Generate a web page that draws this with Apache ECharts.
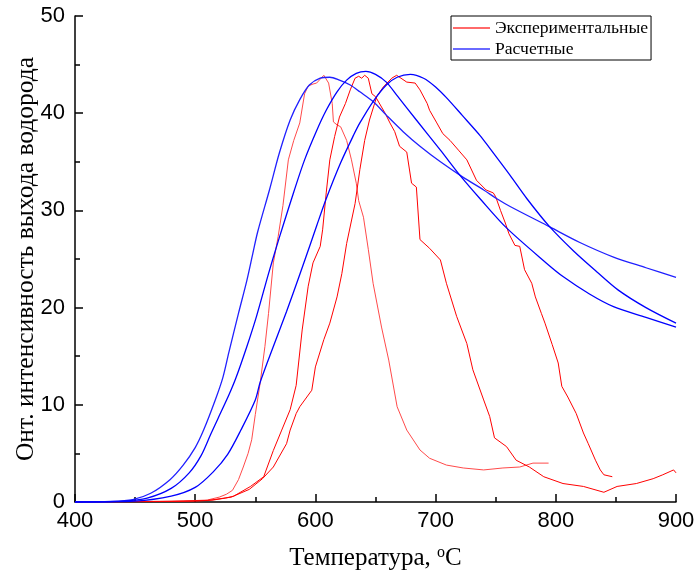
<!DOCTYPE html>
<html>
<head>
<meta charset="utf-8">
<script src="https://cdn.jsdelivr.net/npm/echarts@6/dist/echarts.min.js"></script>
<style>html,body{margin:0;padding:0;background:#fff}#c{width:696px;height:579px}</style>
</head>
<body>
<div id="c"></div>
<script>
const xTicks = [400, 500, 600, 700, 800, 900];
const yTicks = [0, 10, 20, 30, 40, 50];
const legendNames = ['Экспериментальные', 'Расчетные'];

const exp1 = [[400,0],[450,0.05],[490,0.1],[510,0.2],[520,0.5],[526,0.8],[531,1.2],[536,2.3],[540,3.6],[544,5],[547,6.4],[550,9],[554,12.2],[558,16],[561,19.4],[565,24.6],[569,27.3],[573,30.5],[577.5,35.2],[582,37.2],[587,39],[591,42],[594,42.8],[598,43.0],[601,43.1],[604,43.5],[607,43.9],[611,43.1],[614,41.0],[615,39.1],[618,38.8],[621,38.6],[626,37.2],[630,35.2],[634,32.8],[636,31.0],[640,29.3],[644,26],[648,22.5],[655,18],[661,14.6],[668,9.8],[676,7.4],[687,5.35],[695,4.5],[709,3.8],[723,3.5],[740,3.3],[756,3.5],[770,3.6],[781,4.0],[794,4.0]];

const exp2 = [[400,0],[470,0.05],[500,0.1],[515,0.2],[525,0.4],[532,0.6],[546,1.6],[557,2.6],[565,5.3],[572,7.4],[579,9.5],[584,12],[589,17.7],[594,22.2],[598,24.6],[604,26.3],[606,28],[609,31.8],[612,35.2],[616,37.6],[620,39.6],[625,41],[629,42.4],[633,43.6],[636,43.8],[638.5,43.6],[641,43.9],[644,43.6],[647,42],[650,41.7],[658,40],[662,39],[666,38.1],[670,36.6],[676,36],[680,32.8],[684,32.4],[687,27],[695,26.1],[704,24.9],[709,22.5],[717.5,19.1],[726,16.3],[731,13.6],[740,10.5],[745,8.8],[749,6.6],[759,5.7],[767,4.3],[778,3.6],[790,2.6],[806,1.9],[823,1.6],[840,1.0],[851,1.6],[867,1.9],[881,2.4],[889,2.8],[898,3.3],[900,3.0]];

const exp3 = [[400,0],[480,0.05],[510,0.15],[530,0.5],[545,1.3],[556,2.4],[565,3.6],[576,6.0],[579,7.4],[584,9.1],[587,9.8],[597,11.5],[600,13.9],[607,16.7],[612,18.4],[618,21.1],[622,23.5],[626,26.6],[633,30.7],[637,34.2],[641,37.2],[645,39.3],[651,41.7],[656.5,42.7],[663.5,43.6],[667.6,43.9],[676,43.2],[683,43.1],[687,42.4],[693,41],[695,40.3],[701,39],[706,37.9],[712,37.2],[719,36.2],[726,35.2],[734,33.1],[742,32.1],[748,31.8],[750,31.4],[754,30],[758,28.7],[761,27.6],[766,26.4],[770,26.3],[774,23.9],[780,22.5],[783,21.1],[788,19.4],[791,18.4],[797,16.2],[802,14.3],[805,11.9],[810,10.8],[817,9.1],[823,7.1],[827,6.0],[833,4.3],[837,3.3],[840,2.8],[847,2.6]];

const calc1 = [[400,0],[430,0.05],[448,0.25],[463,0.9],[479,2.3],[490,3.8],[500,5.6],[507,7.4],[517,10.6],[523,12.8],[528,15.4],[536,19.4],[543,22.8],[548,25.6],[552,27.8],[562,32.2],[570,35.9],[579,39.3],[587,41.4],[595,42.9],[604,43.6],[612,43.7],[620,43.4],[629,42.9],[637,42.2],[648,41.2],[659,39.8],[673,38.1],[687,36.6],[704,35.0],[723,33.4],[740,32.1],[751,31.2],[762,30.4],[795,28.3],[820,26.7],[848,25.2],[875,24.1],[900,23.1]];

const calc2 = [[400,0],[440,0.1],[460,0.4],[480,1.4],[495,3.0],[505,4.8],[513,7.0],[519,8.6],[528,11.0],[534,12.8],[543,16],[551,19.1],[561,23.5],[568,26.4],[573,28.4],[582,31.9],[591,35.2],[601,38.2],[609,40.3],[618,42.2],[626,43.4],[634,44.1],[642,44.3],[650,44.0],[659,43.2],[668,41.8],[684,39.3],[704,36.2],[721,33.5],[737,31.2],[759,28.2],[792,24.6],[806,23.2],[828,21.4],[848,20.1],[875,19.0],[900,18.0]];

const calc3 = [[400,0],[450,0.1],[480,0.6],[500,1.5],[515,3.1],[527,4.9],[538,7.4],[550,10.5],[554,12.3],[565,16],[576,19.6],[587,23.4],[596,26.6],[601,28.4],[609,31.2],[621,34.9],[632,37.8],[637,39],[648,41.2],[659,42.9],[668,43.7],[679,44.0],[690,43.6],[700,42.7],[709,41.6],[722,39.8],[737,37.7],[745,36.4],[762,33.6],[776,31.2],[795,28.3],[815,25.8],[834,23.7],[852,21.8],[875,20.0],[900,18.4]];

const chart = echarts.init(document.getElementById('c'), null, {renderer: 'canvas'});

function line(name, data, color, width, smooth) {
  return {
    name: name, type: 'line', data: data, showSymbol: false, symbol: 'none',
    smooth: smooth, animation: false,
    lineStyle: {color: color, width: width}, itemStyle: {color: color}
  };
}

const axisCommon = {
  axisLine: {show: true, lineStyle: {color: '#000', width: 1.5}},
  axisTick: {show: true, inside: true, length: 8, lineStyle: {color: '#000', width: 1.5}},
  minorTick: {show: true, splitNumber: 2, length: 5, lineStyle: {color: '#000', width: 1.5}},
  splitLine: {show: false},
  axisLabel: {color: '#000', fontFamily: 'Liberation Sans', fontSize: 22}
};

chart.setOption({
  backgroundColor: '#fff',
  animation: false,
  grid: {left: 75, right: 20, top: 16, bottom: 77, containLabel: false, outerBoundsMode: 'none'},
  legend: {
    data: [
      {name: legendNames[0], icon: 'rect', itemStyle: {color: '#ff6a6a'}},
      {name: legendNames[1], icon: 'rect', itemStyle: {color: '#6a6aff'}}
    ],
    orient: 'vertical', left: 451, top: 16,
    padding: [3, 3, 2, 2], itemGap: 3,
    itemWidth: 37, itemHeight: 2,
    borderColor: '#000', borderWidth: 1,
    textStyle: {fontFamily: 'Liberation Serif', fontSize: 17.6, color: '#000', lineHeight: 18}
  },
  xAxis: Object.assign({}, axisCommon, {
    type: 'value', min: xTicks[0], max: xTicks[xTicks.length - 1], interval: 100,
    name: '{a|Температура, }{s|o}{a|C}', nameLocation: 'middle', nameGap: 43,
    nameMoveOverlap: false,
    nameTextStyle: {rich: {
      a: {fontFamily: 'Liberation Serif', fontSize: 25, color: '#000'},
      s: {fontFamily: 'Liberation Serif', fontSize: 16, color: '#000', verticalAlign: 'top', padding: [0, 0, 10, 0]}
    }},
    axisLabel: Object.assign({}, axisCommon.axisLabel, {margin: 8})
  }),
  yAxis: Object.assign({}, axisCommon, {
    type: 'value', min: yTicks[0], max: yTicks[yTicks.length - 1], interval: 10,
    name: 'Онт. интенсивность выхода водорода', nameLocation: 'middle', nameGap: 36,
    nameMoveOverlap: false,
    nameTextStyle: {fontFamily: 'Liberation Serif', fontSize: 25.5, color: '#000'},
    axisLabel: Object.assign({}, axisCommon.axisLabel, {margin: 10})
  }),
  series: [
    line(legendNames[0], exp1, '#ff4a4a', 1, false),
    line(legendNames[0], exp2, '#ff0000', 1, false),
    line(legendNames[0], exp3, '#ff0000', 1, false),
    line(legendNames[1], calc1, '#2020ff', 1.3, 0.3),
    line(legendNames[1], calc2, '#0000ff', 1.3, 0.3),
    line(legendNames[1], calc3, '#0000ff', 1.3, 0.3)
  ]
});
</script>
</body>
</html>
